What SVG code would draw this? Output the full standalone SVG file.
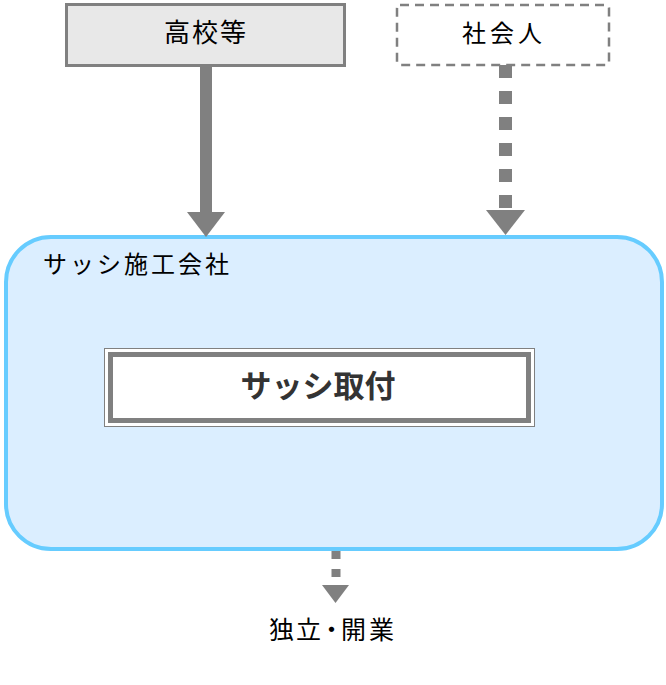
<svg xmlns="http://www.w3.org/2000/svg" width="666" height="685" viewBox="0 0 666 685">
<style>
text{font-family:"Noto Sans CJK JP","Noto Sans CJK SC",sans-serif;fill:#000;text-anchor:middle}
.lbl{font-size:24px}
.arrow{fill:#808080}
</style>
<rect width="666" height="685" fill="#fff"/>
<g id="company">
<rect x="6" y="237" width="656" height="312" rx="45" ry="45" fill="#dbeeff" stroke="#66ccff" stroke-width="4"/>
<text x="43" y="273" class="lbl" style="text-anchor:start;letter-spacing:3px">サッシ施工会社</text>
</g>
<g id="school">
<rect x="66.5" y="4.5" width="278" height="61" fill="#e8e8e8" stroke="#808080" stroke-width="3"/>
<text x="206" y="42" class="lbl" style="font-size:26px;letter-spacing:2px">高校等</text>
</g>
<g id="worker">
<rect x="397" y="5" width="212" height="60" rx="3" fill="#fff" stroke="#808080" stroke-width="2.5" stroke-dasharray="9,6"/>
<text x="504" y="42" class="lbl" style="letter-spacing:4px">社会人</text>
</g>
<g id="task">
<rect x="104.5" y="348.5" width="430" height="78" fill="#fff" stroke="#808080" stroke-width="1"/>
<rect x="110.5" y="354.5" width="418" height="66" fill="#fff" stroke="#808080" stroke-width="5"/>
<text x="318" y="397" style="font-size:31px;font-weight:bold;fill:#333">サッシ取付</text>
</g>
<g id="independent">
<text x="269 296 319 341 369" y="639" class="lbl" style="text-anchor:start;font-size:25px">独立・開業</text>
</g>
<g id="connectors">
<rect class="arrow" x="200" y="66" width="12" height="147"/>
<polygon class="arrow" points="187,212 225,212 206,237"/>
<line x1="505.5" y1="65" x2="505.5" y2="210" stroke="#808080" stroke-width="13" stroke-dasharray="13,13"/>
<polygon class="arrow" points="486,210 525,210 505.5,235"/>
<line x1="336" y1="551" x2="336" y2="585" stroke="#808080" stroke-width="9" stroke-dasharray="8,10"/>
<polygon class="arrow" points="322,585 349,585 335.5,603"/>
</g>
</svg>
